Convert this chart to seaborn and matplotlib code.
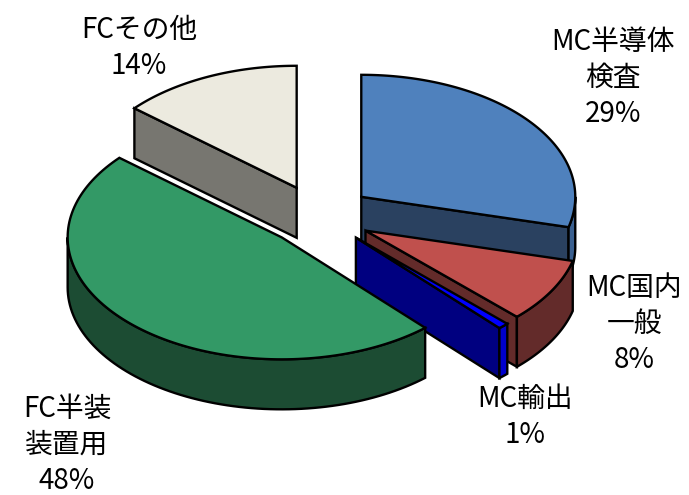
import numpy as np
import matplotlib
matplotlib.use("Agg")
import matplotlib.pyplot as plt
import seaborn as sns

categories = ["MC半導体\n検査", "MC国内\n一般", "MC輸出", "FC半装\n装置用", "FCその他"]
shares = [29.0, 8.49, 0.81, 48.0, 13.7]
pct_labels = ["29%", "8%", "1%", "48%", "14%"]

top_colors = ["#4F81BD", "#C0504D", "#0000FF", "#339966", "#ECEADF"]
wall_colors = ["#2A4160", "#632B2A", "#000080", "#1C4C33", "#777670"]
rim_colors = ["#3A6090", "#632B2A", "#0000CC", "#1C4C33", "#777670"]
label_xy = [(613, 78), (634, 324), (525, 417), (67, 445), (139, 48)]
draw_order = [4, 0, 1, 2, 3]

CX, CY = 319, 215.5
RX, RY = 214, 122
DEPTH = 50
EXPLODE = 0.25
LW = 1.7

sns.set_theme(style="white")
plt.rcParams["font.family"] = ["Noto Sans CJK JP", "DejaVu Sans"]


def ell(theta, x0, y0):
    # clockwise from 12 o'clock, y axis points down
    return x0 + RX * np.sin(theta), y0 - RY * np.cos(theta)


fig, ax = plt.subplots(figsize=(6.89, 4.95), dpi=100)
fig.subplots_adjust(0, 0, 1, 1)
ax.set_xlim(0, 689)
ax.set_ylim(495, 0)
ax.axis("off")

edges = np.radians(np.concatenate([[0], np.cumsum(shares)]) / np.sum(shares) * 360)

for i in draw_order:
    a, b = edges[i], edges[i + 1]
    x0, y0 = ell((a + b) / 2, CX, CY)
    x0 = CX + (x0 - CX) * EXPLODE
    y0 = CY + (y0 - CY) * EXPLODE

    # radial wall facing the viewer
    for t, visible in ((a, np.sin(a) < -1e-6), (b, np.sin(b) > 1e-6)):
        if visible:
            ex, ey = ell(t, x0, y0)
            ax.fill([x0, ex, ex, x0], [y0, ey, ey + DEPTH, y0 + DEPTH],
                    facecolor=wall_colors[i], edgecolor="black", lw=LW, joinstyle="miter")

    # outer rim, only the front half of the ellipse shows
    lo, hi = max(a, np.pi / 2), min(b, 3 * np.pi / 2)
    if hi > lo:
        ts = np.linspace(lo, hi, 80)
        rx, ry = ell(ts, x0, y0)
        ax.fill(np.r_[rx, rx[::-1]], np.r_[ry, ry[::-1] + DEPTH],
                facecolor=rim_colors[i], edgecolor="black", lw=LW)

    ts = np.linspace(a, b, 120)
    tx, ty = ell(ts, x0, y0)
    ax.fill(np.r_[x0, tx], np.r_[y0, ty], facecolor=top_colors[i], edgecolor="black", lw=LW)

for name, pct, (lx, ly) in zip(categories, pct_labels, label_xy):
    ax.text(lx, ly, f"{name}\n{pct}", ha="center", va="center", fontsize=20,
            linespacing=1.28, color="black")

fig.savefig("out.png", dpi=100)
